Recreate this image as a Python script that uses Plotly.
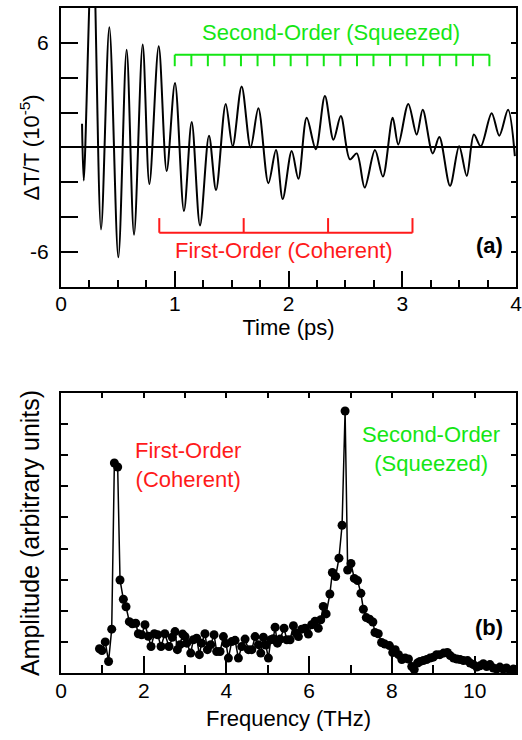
import plotly.graph_objects as go

# ---------- Panel (a): time-domain trace ----------
time_ps = [0.185, 0.20, 0.278, 0.352, 0.425, 0.504, 0.577, 0.642, 0.718, 0.777,
           0.859, 0.929, 1.002, 1.081, 1.149, 1.222, 1.301, 1.363, 1.448, 1.509,
           1.588, 1.667, 1.735, 1.823, 1.89, 1.949, 2.028, 2.087, 2.16, 2.24,
           2.32, 2.395, 2.46, 2.54, 2.6, 2.67, 2.76, 2.83, 2.916, 2.965,
           3.053, 3.127, 3.18, 3.268, 3.326, 3.42, 3.5, 3.567, 3.63, 3.69,
           3.786, 3.853, 3.93, 3.99]
dT_T = [1.36, -1.9, 12.5, -4.7, 6.9, -6.3, 5.6, -5.0, 5.9, -2.1,
        5.8, -1.35, 3.7, -3.65, 1.46, -4.47, 0.68, -2.44, 2.5, 0.07,
        3.5, 0.0, 2.25, -2.05, -0.15, -2.95, -0.2, -1.8, 1.7, -0.1,
        2.95, 0.45, 1.8, -0.68, -0.34, -2.3, -0.15, -1.67, 1.7, 0.17,
        2.5, 0.74, 2.16, -0.34, 0.6, -2.2, 0.07, -1.63, 0.74, 0.07,
        1.97, 0.68, 2.16, -0.5]

# bracket tick times (periods of the two modes)
second_order_ticks = [1.000, 1.146, 1.291, 1.437, 1.582, 1.728, 1.874, 2.019, 2.165, 2.310,
                      2.456, 2.602, 2.747, 2.893, 3.038, 3.184, 3.330, 3.475, 3.621, 3.766]
first_order_ticks = [0.864, 1.606, 2.348, 3.090]
second_bar_y, second_tick_y = 5.32, 4.66
first_bar_y, first_tick_y = -4.89, -4.05

# ---------- Panel (b): spectrum ----------
freq_THz = [0.93, 0.99, 1.07, 1.15, 1.226, 1.29, 1.37, 1.427, 1.507, 1.572,
            1.652, 1.725, 1.806, 1.87, 1.95, 2.03, 2.11, 2.177, 2.257, 2.337,
            2.418, 2.51, 2.61, 2.69, 2.757, 2.813, 2.878, 2.94, 2.999, 3.039,
            3.136, 3.2, 3.28, 3.345, 3.4, 3.48, 3.539, 3.62, 3.7, 3.764,
            3.845, 3.926, 3.99, 4.047, 4.128, 4.208, 4.289, 4.369, 4.45, 4.531,
            4.612, 4.692, 4.773, 4.83, 4.893, 4.95, 5.014, 5.071, 5.13, 5.176,
            5.232, 5.297, 5.393, 5.458, 5.538, 5.619, 5.683, 5.74, 5.82, 5.90,
            5.98, 6.06, 6.14, 6.22, 6.28, 6.34, 6.41, 6.50, 6.56, 6.64,
            6.72, 6.795, 6.868, 6.93, 7.01, 7.09, 7.17, 7.25, 7.31, 7.38,
            7.46, 7.54, 7.59, 7.67, 7.75, 7.83, 7.94, 8.02, 8.08, 8.16,
            8.24, 8.32, 8.40, 8.48, 8.54, 8.62, 8.68, 8.76, 8.84, 8.92,
            9.0, 9.08, 9.16, 9.25, 9.34, 9.41, 9.49, 9.57, 9.65, 9.73,
            9.83, 9.89, 9.97, 10.05, 10.13, 10.21, 10.29, 10.37, 10.45, 10.53,
            10.61, 10.69, 10.77, 10.86, 10.94, 11.0]
amplitude = [0.78, 0.72, 1.0, 0.37, 1.41, 6.75, 6.62, 2.99, 2.37, 2.13,
             1.65, 1.58, 1.60, 1.26, 1.23, 1.55, 1.18, 0.85, 1.26, 1.23,
             0.85, 1.26, 0.85, 1.15, 1.33, 0.75, 0.91, 1.25, 1.17, 0.96,
             0.64, 1.07, 1.12, 0.59, 0.96, 1.26, 0.75, 0.91, 1.23, 0.69,
             0.69, 1.17, 0.95, 0.48, 1.01, 1.05, 0.48, 0.85, 1.09, 0.75,
             0.75, 1.17, 0.91, 0.64, 1.15, 0.9, 0.48, 1.07, 1.1, 1.47,
             0.96, 1.09, 1.44, 1.07, 1.07, 1.52, 1.28, 1.17, 1.41, 1.44,
             1.25, 1.55, 1.66, 1.44, 1.71, 2.14, 1.90, 2.54, 3.23, 3.1,
             3.69, 4.75, 8.42, 3.31, 3.52, 3.04, 2.97, 2.56, 2.05, 1.78,
             1.73, 1.64, 1.30, 1.26, 0.98, 0.93, 0.88, 0.66, 0.75, 0.59,
             0.43, 0.48, 0.45, 0.21, 0.11, 0.32, 0.37, 0.40, 0.43, 0.48,
             0.51, 0.59, 0.59, 0.64, 0.66, 0.56, 0.48, 0.45, 0.43, 0.40,
             0.40, 0.32, 0.27, 0.19, 0.23, 0.30, 0.21, 0.27, 0.16, 0.13,
             0.19, 0.13, 0.16, 0.08, 0.13, 0.11]

GREEN = "#14e614"
RED = "#ff1a1a"
FONT = "Arial, Liberation Sans, sans-serif"


def bracket(ticks, bar_y, tick_y):
    xs, ys = [ticks[0], ticks[-1], None], [bar_y, bar_y, None]
    for t in ticks:
        xs += [t, t, None]
        ys += [bar_y, tick_y, None]
    return xs, ys


fig = go.Figure()

fig.add_trace(go.Scatter(x=time_ps, y=dT_T, mode="lines",
                         line=dict(color="black", width=2, shape="spline", smoothing=0.9),
                         xaxis="x", yaxis="y", showlegend=False))
gx, gy = bracket(second_order_ticks, second_bar_y, second_tick_y)
fig.add_trace(go.Scatter(x=gx, y=gy, mode="lines", line=dict(color=GREEN, width=2),
                         xaxis="x", yaxis="y", showlegend=False))
rx, ry = bracket(first_order_ticks, first_bar_y, first_tick_y)
fig.add_trace(go.Scatter(x=rx, y=ry, mode="lines", line=dict(color=RED, width=2),
                         xaxis="x", yaxis="y", showlegend=False))

fig.add_trace(go.Scatter(x=freq_THz, y=amplitude, mode="lines+markers",
                         line=dict(color="black", width=1.5),
                         marker=dict(color="black", size=9),
                         xaxis="x2", yaxis="y2", showlegend=False))

# invisible traces for mirrored (short) tick axes
fig.add_trace(go.Scatter(x=[None], y=[None], xaxis="x", yaxis="y3", showlegend=False))
fig.add_trace(go.Scatter(x=[None], y=[None], xaxis="x3", yaxis="y2", showlegend=False))
fig.add_trace(go.Scatter(x=[None], y=[None], xaxis="x2", yaxis="y4", showlegend=False))

axis_common = dict(showline=True, linecolor="black", linewidth=2, showgrid=False,
                   zeroline=False, ticks="inside", tickcolor="black", tickwidth=2,
                   automargin=False,
                   tickfont=dict(family=FONT, size=21, color="black"))
overlay_common = dict(ticks="inside", ticklen=5, tickcolor="black", tickwidth=2,
                      showticklabels=False, showgrid=False, zeroline=False,
                      showline=True, linecolor="black", linewidth=2, automargin=False)

fig.update_layout(
    width=522, height=740,
    margin=dict(l=61, r=6, t=8, b=67, autoexpand=False),
    paper_bgcolor="white", plot_bgcolor="white",
    font=dict(family=FONT, size=21, color="black"),
    xaxis=dict(**axis_common, domain=[0, 1], anchor="y", range=[0, 4],
               tickvals=[0, 1, 2, 3, 4], ticklen=16, mirror=True,
               ticklabeloverflow="allow", ticklabelstandoff=-3,
               minor=dict(dtick=0.25, ticklen=7, ticks="inside", tickcolor="black", tickwidth=2),
               title=dict(text="Time (ps)", font=dict(size=22), standoff=0)),
    yaxis=dict(**{**axis_common, "zeroline": True}, zerolinecolor="black", zerolinewidth=2,
               domain=[0.5805, 1.0], anchor="x", range=[-8, 8],
               tickvals=[-6, -4, -2, 0, 2, 4, 6],
               ticktext=["-6", "", "", "", "", "", "6"], ticklen=17, mirror=True,
               ticklabelstandoff=6),
    yaxis3=dict(**overlay_common, overlaying="y", side="right", anchor="x", range=[-8, 8],
                tickvals=[-6, -4, -2, 2, 4, 6]),
    xaxis2=dict(**axis_common, domain=[0, 1], anchor="y2", range=[0, 11],
                tickvals=[0, 2, 4, 6, 8, 10], ticklen=17, mirror=True,
                ticklabeloverflow="allow", ticklabelstandoff=-2,
                minor=dict(dtick=1, ticklen=8, ticks="inside", tickcolor="black", tickwidth=2),
                title=dict(text="Frequency (THz)", font=dict(size=22), standoff=9)),
    yaxis2=dict(**axis_common, domain=[0, 0.4211], anchor="x2", range=[0, 9],
                tickvals=[1, 2, 3, 4, 5, 6, 7, 8], ticklen=7, mirror=True,
                showticklabels=False,
                title=dict(text="Amplitude (arbitrary units)", font=dict(size=25), standoff=12)),
    xaxis3=dict(**overlay_common, overlaying="x2", side="top", anchor="y2", range=[0, 11],
                tickvals=[1, 2, 3, 4, 5, 6, 7, 8, 9, 10]),
    yaxis4=dict(**overlay_common, overlaying="y2", side="right", anchor="x2", range=[0, 9],
                tickvals=[1, 2, 3, 4, 5, 6, 7, 8]),
)

ann_font = dict(family=FONT, size=22)
# y-axis title of panel (a), placed close to the tick labels as in the original
fig.add_annotation(x=-0.068, y=0.5, xref="paper", yref="y domain",
                   text="ΔT/T (10<sup>-5</sup>)", textangle=-90, showarrow=False,
                   xanchor="center", yanchor="middle", font=dict(**ann_font, color="black"))
fig.add_annotation(x=2.37, y=6.6, xref="x", yref="y", text="Second-Order (Squeezed)",
                   showarrow=False, font=dict(**ann_font, color=GREEN))
fig.add_annotation(x=1.96, y=-5.93, xref="x", yref="y", text="First-Order (Coherent)",
                   showarrow=False, font=dict(**ann_font, color=RED))
fig.add_annotation(x=3.77, y=-5.6, xref="x", yref="y", text="<b>(a)</b>",
                   showarrow=False, font=dict(**ann_font, color="black"))
fig.add_annotation(x=3.06, y=6.68, xref="x2", yref="y2", text="First-Order<br>(Coherent)",
                   showarrow=False, font=dict(**ann_font, color=RED))
fig.add_annotation(x=8.95, y=7.2, xref="x2", yref="y2", text="Second-Order<br>(Squeezed)",
                   showarrow=False, font=dict(**ann_font, color=GREEN))
fig.add_annotation(x=10.35, y=1.45, xref="x2", yref="y2", text="<b>(b)</b>",
                   showarrow=False, font=dict(**ann_font, color="black"))

fig.write_html("out.html", config={"displayModeBar": False},
               post_script="document.body.style.margin='0';document.body.style.padding='0';")
